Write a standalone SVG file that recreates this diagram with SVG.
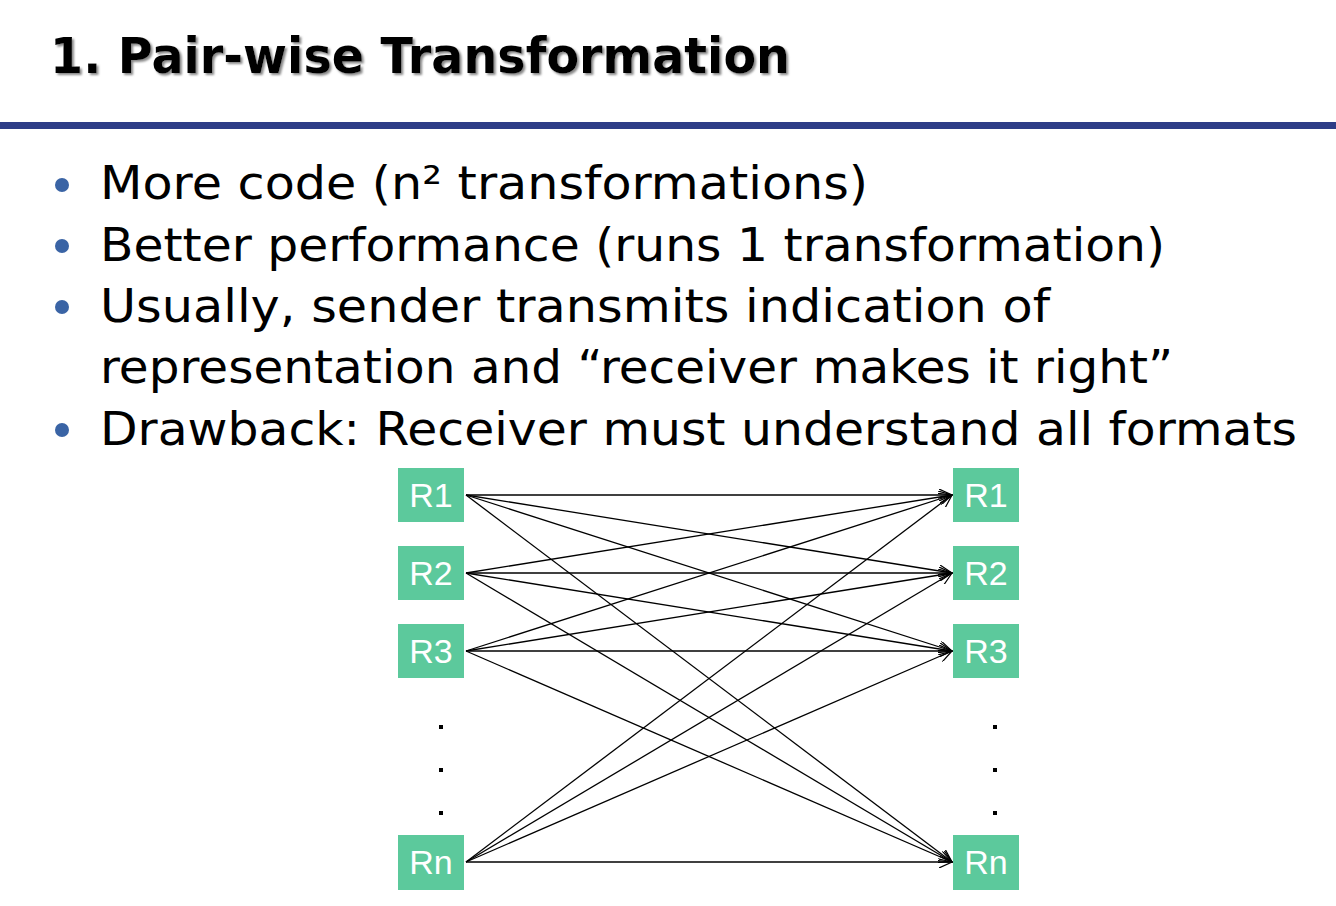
<svg xmlns="http://www.w3.org/2000/svg" width="1336" height="906" viewBox="0 0 1336 906">
<defs>
<marker id="ah" markerWidth="14" markerHeight="12" refX="13" refY="6" orient="auto" markerUnits="userSpaceOnUse"><path d="M0,0 L13,6 L0,12" fill="none" stroke="#000" stroke-width="1.2"/></marker>
<filter id="sh" x="-5%" y="-20%" width="110%" height="140%"><feDropShadow dx="2" dy="2" stdDeviation="1.2" flood-color="#888"/></filter>
</defs>
<style>
.t{font-family:"DejaVu Sans",Verdana,sans-serif;fill:#000}
.b{font-family:"DejaVu Sans",Verdana,sans-serif;font-size:46px;fill:#000}
.box{fill:#5CC99C}
.lbl{font-family:"Liberation Sans",Arial,sans-serif;font-size:34px;fill:#fff;text-anchor:middle}
.e{stroke:#000;stroke-width:1.3;fill:none;marker-end:url(#ah)}
.dot{fill:#000}
</style>
<rect width="1336" height="906" fill="#fff"/>
<text class="t" x="50" y="73" font-size="50" font-weight="bold" textLength="740" lengthAdjust="spacingAndGlyphs" filter="url(#sh)">1. Pair-wise Transformation</text>
<rect x="0" y="122" width="1336" height="7" fill="#2E3D87"/>
<g fill="#3A64A5"><circle cx="62" cy="185" r="7"/><circle cx="62" cy="246" r="7"/><circle cx="62" cy="307" r="7"/><circle cx="62" cy="430" r="7"/></g>
<text class="b" x="100" y="199" textLength="768" lengthAdjust="spacingAndGlyphs">More code (n² transformations)</text>
<text class="b" x="100" y="261" textLength="1065" lengthAdjust="spacingAndGlyphs">Better performance (runs 1 transformation)</text>
<text class="b" x="100" y="322" textLength="950" lengthAdjust="spacingAndGlyphs">Usually, sender transmits indication of</text>
<text class="b" x="100" y="383" textLength="1073" lengthAdjust="spacingAndGlyphs">representation and “receiver makes it right”</text>
<text class="b" x="100" y="445" textLength="1197" lengthAdjust="spacingAndGlyphs">Drawback: Receiver must understand all formats</text>
<g id="connectors">
<path class="e" d="M466,495 L952,495"/><path class="e" d="M466,495 L952,573"/><path class="e" d="M466,495 L952,651"/><path class="e" d="M466,495 L952,862"/>
<path class="e" d="M466,573 L952,495"/><path class="e" d="M466,573 L952,573"/><path class="e" d="M466,573 L952,651"/><path class="e" d="M466,573 L952,862"/>
<path class="e" d="M466,651 L952,495"/><path class="e" d="M466,651 L952,573"/><path class="e" d="M466,651 L952,651"/><path class="e" d="M466,651 L952,862"/>
<path class="e" d="M466,862 L952,495"/><path class="e" d="M466,862 L952,573"/><path class="e" d="M466,862 L952,651"/><path class="e" d="M466,862 L952,862"/>
</g>
<g id="L1"><rect class="box" x="398" y="468" width="66" height="54"/><text class="lbl" x="431" y="507">R1</text></g>
<g id="L2"><rect class="box" x="398" y="546" width="66" height="54"/><text class="lbl" x="431" y="585">R2</text></g>
<g id="L3"><rect class="box" x="398" y="624" width="66" height="54"/><text class="lbl" x="431" y="663">R3</text></g>
<g id="Ln"><rect class="box" x="398" y="835" width="66" height="55"/><text class="lbl" x="431" y="874">Rn</text></g>
<g id="R1"><rect class="box" x="953" y="468" width="66" height="54"/><text class="lbl" x="986" y="507">R1</text></g>
<g id="R2"><rect class="box" x="953" y="546" width="66" height="54"/><text class="lbl" x="986" y="585">R2</text></g>
<g id="R3"><rect class="box" x="953" y="624" width="66" height="54"/><text class="lbl" x="986" y="663">R3</text></g>
<g id="Rn"><rect class="box" x="953" y="835" width="66" height="55"/><text class="lbl" x="986" y="874">Rn</text></g>
<g class="dot"><rect x="439" y="725" width="4" height="4"/><rect x="439" y="768" width="4" height="4"/><rect x="439" y="811" width="4" height="4"/>
<rect x="993" y="725" width="4" height="4"/><rect x="993" y="768" width="4" height="4"/><rect x="993" y="811" width="4" height="4"/></g>
</svg>
